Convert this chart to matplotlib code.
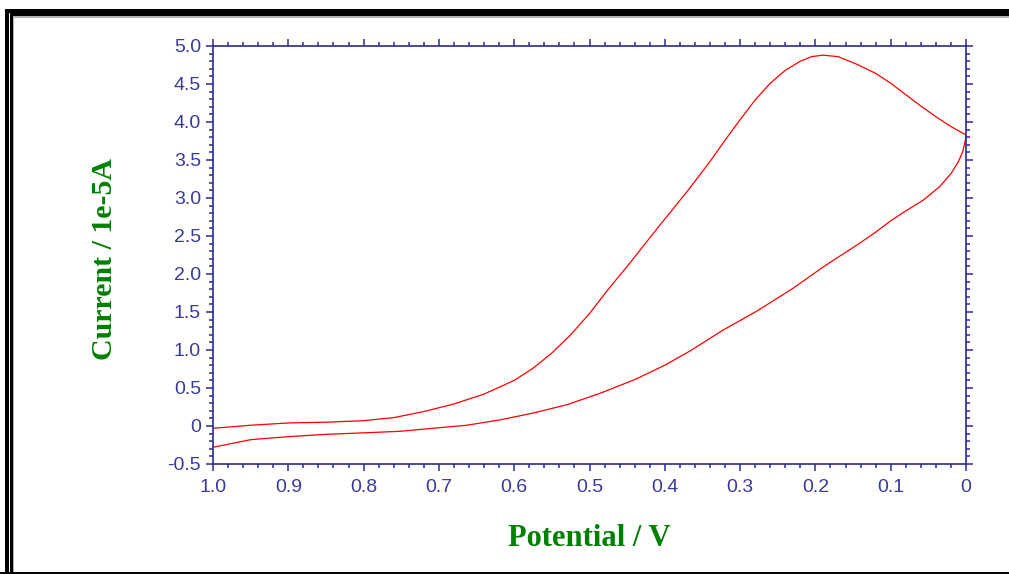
import numpy as np
import matplotlib
matplotlib.use('Agg')
import matplotlib.pyplot as plt
from matplotlib.patches import Rectangle
from matplotlib.ticker import MultipleLocator, FuncFormatter

# cyclic voltammogram, scan 1.0 V -> 0 V (upper branch) then back (lower branch)
fwd_potential = [1.00, 0.95, 0.90, 0.85, 0.80, 0.76, 0.72, 0.68, 0.64, 0.60,
                 0.575, 0.55, 0.525, 0.50, 0.475, 0.45, 0.41, 0.37, 0.34, 0.32,
                 0.30, 0.28, 0.26, 0.24, 0.22, 0.205, 0.19, 0.17, 0.145, 0.12,
                 0.10, 0.08, 0.06, 0.04, 0.02, 0.0]
fwd_current = [-0.03, 0.01, 0.04, 0.05, 0.07, 0.11, 0.19, 0.29, 0.42, 0.60,
               0.76, 0.96, 1.20, 1.48, 1.80, 2.10, 2.60, 3.09, 3.48, 3.76,
               4.03, 4.29, 4.51, 4.68, 4.80, 4.86, 4.88, 4.86, 4.76, 4.64,
               4.51, 4.36, 4.21, 4.07, 3.94, 3.83]

rev_potential = [0.0, 0.004, 0.01, 0.02, 0.035, 0.057, 0.08, 0.10, 0.12, 0.145,
                 0.17, 0.19, 0.23, 0.278, 0.323, 0.366, 0.40, 0.44, 0.486, 0.53,
                 0.575, 0.619, 0.663, 0.708, 0.752, 0.80, 0.85, 0.90, 0.95, 1.00]
rev_current = [3.80, 3.62, 3.48, 3.32, 3.15, 2.97, 2.83, 2.70, 2.55, 2.38,
               2.22, 2.09, 1.81, 1.51, 1.26, 0.99, 0.80, 0.61, 0.43, 0.28,
               0.17, 0.08, 0.01, -0.03, -0.07, -0.09, -0.11, -0.14, -0.18, -0.28]

W, H = 1009, 574
navy = '#2b2b8f'
lblue = '#3a3a9c'
green = '#008000'

fig = plt.figure(figsize=(W / 100, H / 100), dpi=100)
fig.patch.set_facecolor('white')

def px(x0, y0, x1, y1):
    # pixel box (top-left origin) -> figure fraction rect
    return (x0 / W, 1 - y1 / H), (x1 - x0) / W, (y1 - y0) / H

# outer double frame
for (x0, y0, x1, y1, c) in [(5, 9, W + 10, 13, 'black'), (5, 9, 9, H, 'black'),
                            (10, 13, W + 10, 16.5, 'black'), (10, 13, 12.5, H, 'black'),
                            (12.5, 16.5, W + 10, 18, '#b0b0b0'), (12.5, 16.5, 13.5, H, '#b0b0b0'),
                            (0, 571.5, W, 574, 'black')]:
    xy, w, h = px(x0, y0, x1, y1)
    fig.add_artist(Rectangle(xy, w, h, transform=fig.transFigure, color=c, lw=0))

ax = fig.add_axes([213 / W, 1 - 464 / H, (966 - 213) / W, (464 - 46) / H])
ax.plot(np.concatenate([fwd_potential, rev_potential]),
        np.concatenate([fwd_current, rev_current]),
        color='#ff0000', lw=0.9)

ax.set_xlim(1.0, 0.0)
ax.set_ylim(-0.5, 5.0)
ax.xaxis.set_major_locator(MultipleLocator(0.1))
ax.xaxis.set_minor_locator(MultipleLocator(0.02))
ax.yaxis.set_major_locator(MultipleLocator(0.5))
ax.yaxis.set_minor_locator(MultipleLocator(0.1))

def fmt(v, pos):
    if abs(v) < 1e-9:
        return '0'
    return '%.1f' % v

ax.xaxis.set_major_formatter(FuncFormatter(fmt))
ax.yaxis.set_major_formatter(FuncFormatter(fmt))

for s in ax.spines.values():
    s.set_color(navy)
    s.set_linewidth(1.2)

ax.tick_params(which='both', direction='out', top=True, right=True,
               color=navy, width=1.1)
ax.tick_params(which='major', length=5.2)
ax.tick_params(which='minor', length=2.6)
ax.tick_params(axis='x', which='major', pad=5.5, labelsize=14, labelcolor=lblue)
ax.tick_params(axis='y', which='major', pad=3.5, labelsize=14, labelcolor=lblue)
for lab in ax.get_xticklabels() + ax.get_yticklabels():
    lab.set_fontfamily('Liberation Sans')

fig.text(589 / W, 1 - 538 / H, 'Potential / V', ha='center', va='center',
         fontsize=22, fontweight='bold', family='Liberation Serif', color=green)
fig.text(105 / W, 1 - 259 / H, 'Current / 1e-5A', ha='center', va='center',
         rotation=90, fontsize=21.5, fontweight='bold', family='Liberation Serif', color=green)

fig.savefig('out.png', dpi=100)
